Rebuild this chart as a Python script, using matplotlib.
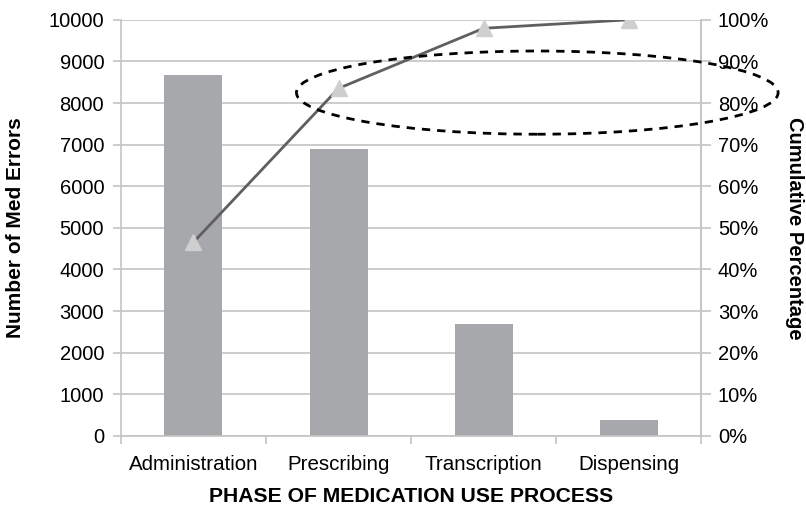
import numpy as np
import matplotlib
matplotlib.use('Agg')
import matplotlib.pyplot as plt
from matplotlib.patches import Ellipse
from matplotlib.ticker import PercentFormatter

plt.rcParams['font.family'] = ['Liberation Sans', 'DejaVu Sans']

# phases and error counts
phases = ['Administration', 'Prescribing', 'Transcription', 'Dispensing']
errors = [8670, 6890, 2690, 380]

cum_pct = np.cumsum(errors) / np.sum(errors) * 100

bar_color = '#a7a8ab'
grid_color = '#c4c4c4'
x = np.arange(len(phases))

fig, ax = plt.subplots(figsize=(8.06, 5.08), dpi=100)
fig.subplots_adjust(left=0.150, right=0.870, top=0.961, bottom=0.142)

ax.bar(x, errors, width=0.4, color=bar_color, zorder=2)
ax.set_xlim(-0.5, 3.5)
ax.set_ylim(0, 10000)
ax.set_yticks(np.arange(0, 10001, 1000))
ax.grid(axis='y', color=grid_color, linewidth=1.2, zorder=0)
ax.set_axisbelow(True)

# category labels centred, tick marks on the boundaries
ax.set_xticks(x)
ax.set_xticklabels(phases)
ax.set_xticks(np.arange(-0.5, 4, 1), minor=True)
ax.tick_params(axis='x', which='major', length=0, pad=14, labelsize=14.8)
ax.tick_params(axis='x', which='minor', length=6, color=grid_color, width=1.2)
ax.tick_params(axis='y', length=6, color=grid_color, width=1.2, pad=6, labelsize=14.5)

ax.spines['top'].set_visible(False)
for s in ['left', 'right', 'bottom']:
    ax.spines[s].set_color(grid_color)
    ax.spines[s].set_linewidth(1.2)

ax.set_ylabel('Number of Med Errors', fontsize=15, fontweight='bold')
ax.yaxis.set_label_coords(-0.166, 0.5)
ax.set_xlabel('PHASE OF MEDICATION USE PROCESS', fontsize=15.2, fontweight='bold')
ax.xaxis.set_label_coords(0.5, -0.122)

# cumulative percentage on the right axis
ax2 = ax.twinx()
ax2.plot(x, cum_pct, color='#5f5f5f', linewidth=2, marker='^', markersize=11,
         markerfacecolor='#cfcfcf', markeredgecolor='#cfcfcf', zorder=3)
ax2.set_ylim(0, 100)
ax2.set_yticks(np.arange(0, 101, 10))
ax2.yaxis.set_major_formatter(PercentFormatter(decimals=0))
ax2.tick_params(axis='y', length=7, color=grid_color, width=1.2, pad=5, labelsize=14.5)
for s in ['top', 'left', 'bottom']:
    ax2.spines[s].set_visible(False)
ax2.spines['right'].set_color(grid_color)
ax2.spines['right'].set_linewidth(1.2)
ax2.set_ylabel('Cumulative Percentage', fontsize=14.5, fontweight='bold', rotation=270)
ax2.yaxis.set_label_coords(1.177, 0.5)

# dashed ring around the phases that make up ~80%
ring = Ellipse((2.37, 82.5), 3.32, 20, fill=False, edgecolor='black',
               linestyle=(0, (3, 2.5)), linewidth=2, clip_on=False, zorder=4)
ax2.add_patch(ring)

fig.savefig('out.png', dpi=100)
